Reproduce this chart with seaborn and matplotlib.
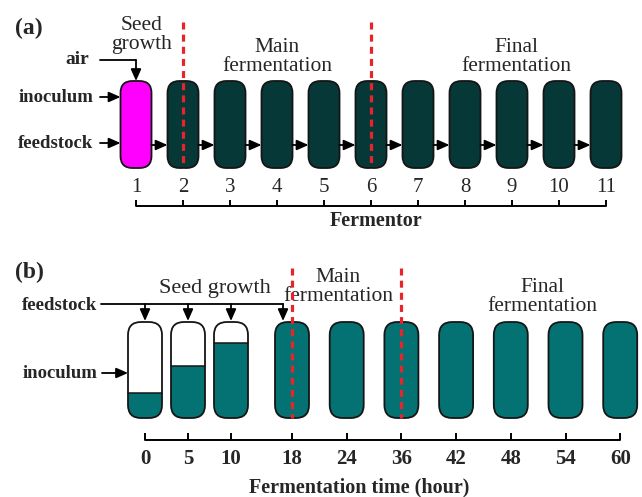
import matplotlib
matplotlib.use("Agg")
import matplotlib.pyplot as plt
from matplotlib.patches import FancyBboxPatch, Rectangle
import seaborn as sns
import pandas as pd

# (a) fermentor train
fermentor_ids = [1, 2, 3, 4, 5, 6, 7, 8, 9, 10, 11]
fermentor_stage = ["seed", "main", "main", "main", "main", "main",
                   "final", "final", "final", "final", "final"]
stage_labels_a = ["Seed\ngrowth", "Main\nfermentation", "Final\nfermentation"]
boundaries_a = [2, 6]

# (b) single fermentor over time
sample_hours = [0, 5, 10, 18, 24, 36, 42, 48, 54, 60]
fill_fraction = [0.26, 0.54, 0.78, 1.0, 1.0, 1.0, 1.0, 1.0, 1.0, 1.0]
stage_labels_b = ["Seed growth", "Main\nfermentation", "Final\nfermentation"]
boundaries_b = [18, 36]

sns.set_theme(style="white")
plt.rcParams["font.family"] = ["Liberation Serif", "DejaVu Serif"]

SEED_COLOR = "#ff00ff"
DARK_COLOR = "#073838"
TEAL_COLOR = "#047272"
EDGE = "#151515"
RED = "#e8232a"
DASH = (0, (2.2, 1.6))

fig = plt.figure(figsize=(6.42, 4.97), dpi=100)
ax = fig.add_axes([0, 0, 1, 1])
ax.set_xlim(0, 642)
ax.set_ylim(497, 0)
ax.axis("off")


def vessel(xc, top, w, h, r, face, fill=1.0):
    style = f"round,pad=0,rounding_size={r}"
    shape = FancyBboxPatch((xc - w / 2, top), w, h, boxstyle=style,
                           fc=face if fill >= 1 else "white", ec="none", zorder=2)
    ax.add_patch(shape)
    if fill < 1:
        level = top + h * (1 - fill)
        liquid = Rectangle((xc - w / 2 - 2, level), w + 4, h * fill + 2,
                           fc=face, ec="none", zorder=2.1)
        ax.add_patch(liquid)
        liquid.set_clip_path(shape)
        ax.plot([xc - w / 2, xc + w / 2], [level, level], color=EDGE, lw=1.1, zorder=2.2)
    ax.add_patch(FancyBboxPatch((xc - w / 2, top), w, h, boxstyle=style,
                                fc="none", ec=EDGE, lw=1.3, zorder=2.3))


def arrow(x0, y0, x1, y1):
    ax.annotate("", xy=(x1, y1), xytext=(x0, y0),
                arrowprops=dict(arrowstyle="-|>,head_length=0.5,head_width=0.22",
                                color="black", lw=1.3, shrinkA=0, shrinkB=0,
                                mutation_scale=14), zorder=3)


def baseline(xs, y, tick_len):
    line = pd.DataFrame({"x": [xs[0], xs[-1]], "y": [y, y]})
    sns.lineplot(data=line, x="x", y="y", ax=ax, color="black", lw=1.4,
                 legend=False, estimator=None, sort=False)
    ax.vlines(xs, y - tick_len, y, color="black", lw=1.4)


# ---------------- panel (a) ----------------
xa = [136 + 47 * i for i in range(len(fermentor_ids))]
wa, top_a, ha = 31, 81, 87
for x, stage in zip(xa, fermentor_stage):
    vessel(x, top_a, wa, ha, 12, SEED_COLOR if stage == "seed" else DARK_COLOR)
for i in range(len(xa) - 1):
    arrow(xa[i] + wa / 2, 145, xa[i + 1] - wa / 2, 145)

for b in boundaries_a:
    xb = xa[fermentor_ids.index(b)]
    ax.plot([xb, xb], [22, 168], color=RED, lw=2.3, ls=DASH, zorder=4)

ax.text(15, 28, "(a)", fontsize=17, fontweight="bold", va="center", ha="left")
ax.text(142, 35, stage_labels_a[0], fontsize=15.5, ha="center", va="center", linespacing=1.05)
ax.text(277, 57, stage_labels_a[1], fontsize=15.5, ha="center", va="center", linespacing=1.05)
ax.text(516, 57, stage_labels_a[2], fontsize=15.5, ha="center", va="center", linespacing=1.05)

ax.text(89, 60, "air", fontsize=14, fontweight="bold", ha="right", va="center")
ax.plot([100, xa[0]], [60, 60], color="black", lw=1.3)
arrow(xa[0], 60, xa[0], top_a)
ax.text(93, 97, "inoculum", fontsize=13.5, fontweight="bold", ha="right", va="center")
arrow(100, 97, xa[0] - wa / 2, 97)
ax.text(93, 143, "feedstock", fontsize=13.5, fontweight="bold", ha="right", va="center")
arrow(100, 143, xa[0] - wa / 2, 143)

for x, n in zip(xa, fermentor_ids):
    ax.text(x, 188, str(n), fontsize=15, ha="center", va="center")
baseline(xa, 206, 6)
ax.text(376, 221, "Fermentor", fontsize=14.5, fontweight="bold", ha="center", va="center")

# ---------------- panel (b) ----------------
n_seed = 3
xb_pos = [145 + 43 * i if i < n_seed else 292 + 54.7 * (i - n_seed)
          for i in range(len(sample_hours))]
wb, top_b, hb = 34, 322, 96
for x, f in zip(xb_pos, fill_fraction):
    vessel(x, top_b, wb, hb, 13, TEAL_COLOR, fill=f)

feed_end = xb_pos[n_seed] - 9
ax.text(97, 305, "feedstock", fontsize=13.5, fontweight="bold", ha="right", va="center")
ax.plot([101, feed_end], [304, 304], color="black", lw=1.3)
for x in xb_pos[:n_seed] + [feed_end]:
    arrow(x, 304, x, top_b - 1)
ax.text(97, 373, "inoculum", fontsize=13.5, fontweight="bold", ha="right", va="center")
arrow(102, 373, xb_pos[0] - wb / 2, 373)

for b in boundaries_b:
    xv = xb_pos[sample_hours.index(b)]
    ax.plot([xv, xv], [268, 418], color=RED, lw=2.3, ls=DASH, zorder=4)

ax.text(15, 272, "(b)", fontsize=17, fontweight="bold", va="center", ha="left")
ax.text(215, 288, stage_labels_b[0], fontsize=16, ha="center", va="center")
ax.text(338, 287, stage_labels_b[1], fontsize=15.5, ha="center", va="center", linespacing=1.0)
ax.text(542, 297, stage_labels_b[2], fontsize=15.5, ha="center", va="center", linespacing=1.0)

baseline(xb_pos, 440, 7)
for x, t in zip(xb_pos, sample_hours):
    ax.text(x, 459, str(t), fontsize=15, fontweight="bold", ha="center", va="center")
ax.text(359, 487, "Fermentation time (hour)", fontsize=14.5, fontweight="bold",
        ha="center", va="center")

ax.set_xlim(0, 642)
ax.set_ylim(497, 0)
ax.axis("off")
fig.savefig("out.png", dpi=100)
